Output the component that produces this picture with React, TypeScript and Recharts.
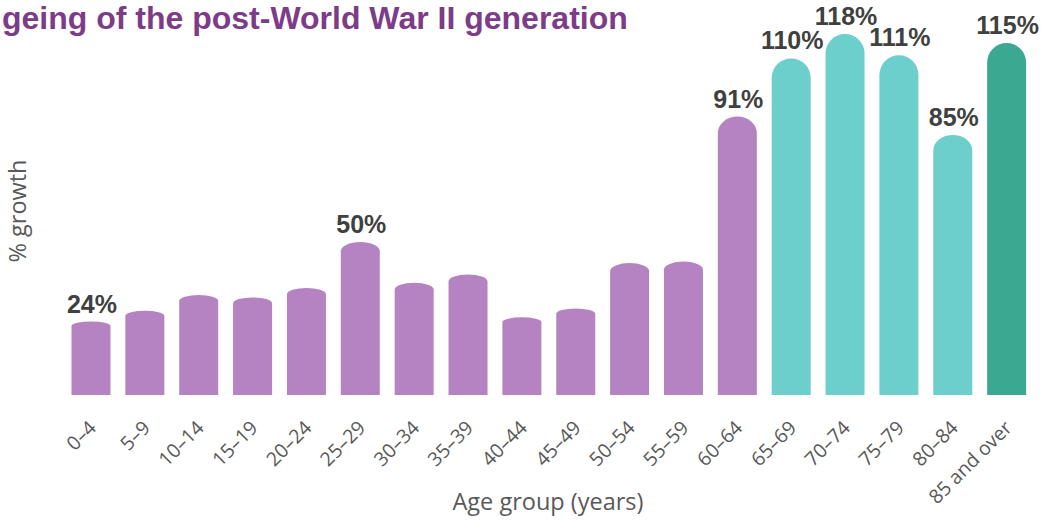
import { BarChart, Bar, XAxis, YAxis, Cell, LabelList } from "recharts";

const ageGroups = [
  "0–4", "5–9", "10–14", "15–19", "20–24", "25–29", "30–34", "35–39", "40–44",
  "45–49", "50–54", "55–59", "60–64", "65–69", "70–74", "75–79", "80–84", "85 and over",
];
const growth = [24, 27.5, 32.7, 31.9, 35, 50, 36.7, 39.4, 25.4, 28.3, 43.1, 43.6, 91, 110, 118, 111, 85, 115];
const shownLabels = ["24%", "", "", "", "", "50%", "", "", "", "", "", "", "91%", "110%", "118%", "111%", "85%", "115%"];

const data = ageGroups.map((name, i) => ({ name, growth: growth[i], label: shownLabels[i] }));

const PURPLE = "#b583c2";
const TEAL = "#6dcfcb";
const GREEN = "#3ba892";

function barColor(i: number) {
  if (i >= 17) return GREEN;
  if (i >= 13) return TEAL;
  return PURPLE;
}

function DomeBar(props: any) {
  const { x, y, width, height, fill } = props;
  if (!height || height <= 0) return null;
  const rx = width / 2;
  const ry = Math.min(rx, height * 0.06);
  const d = `M${x},${y + height} L${x},${y + ry} A${rx},${ry} 0 0 1 ${x + width},${y + ry} L${x + width},${y + height} Z`;
  return <path d={d} fill={fill} />;
}

function AgeTick(props: any) {
  const { x, y, payload } = props;
  const ax = x + 6;
  const ay = y + 26;
  return (
    <text
      x={ax}
      y={ay}
      textAnchor="end"
      transform={`rotate(-45 ${ax} ${ay})`}
      fontFamily="'Open Sans', sans-serif"
      fontSize={19.5}
      fill="#595959"
    >
      {payload.value}
    </text>
  );
}

function TopLabel(props: any) {
  const { x, y, width, value } = props;
  if (!value) return null;
  return (
    <text
      x={x + width / 2 + 1}
      y={y - 9}
      textAnchor="middle"
      fontFamily="'Liberation Sans', Arial, sans-serif"
      fontWeight="bold"
      fontSize={25}
      fill="#404040"
    >
      {value}
    </text>
  );
}

export default function App() {
  return (
    <div style={{ position: "absolute", left: 0, top: 0, width: 1041, height: 520, background: "#fff" }}>
      <div
        style={{
          position: "absolute",
          left: 2,
          top: 0,
          fontFamily: "'Liberation Sans', Arial, sans-serif",
          fontWeight: "bold",
          fontSize: 32,
          color: "#7d3c88",
          whiteSpace: "nowrap",
          lineHeight: "36px",
        }}
      >
        geing of the post-World War II generation
      </div>
      <BarChart
        width={1041}
        height={520}
        data={data}
        margin={{ top: 12.5, right: 7, left: 64.5, bottom: 0 }}
        barSize={39}
      >
        <XAxis
          dataKey="name"
          axisLine={false}
          tickLine={false}
          interval={0}
          height={125}
          tick={<AgeTick />}
        />
        <YAxis hide domain={[0, 125]} />
        <Bar dataKey="growth" shape={<DomeBar />} isAnimationActive={false}>
          {data.map((_, i) => (
            <Cell key={i} fill={barColor(i)} />
          ))}
          <LabelList dataKey="label" content={<TopLabel />} />
        </Bar>
        <text
          x={548}
          y={510}
          textAnchor="middle"
          fontFamily="'Open Sans', sans-serif"
          fontSize={23.5}
          fill="#595959"
        >
          Age group (years)
        </text>
        <text
          x={26}
          y={211}
          textAnchor="middle"
          transform="rotate(-90 26 211)"
          fontFamily="'Open Sans', sans-serif"
          fontSize={23.5}
          fill="#595959"
        >
          % growth
        </text>
      </BarChart>
    </div>
  );
}
